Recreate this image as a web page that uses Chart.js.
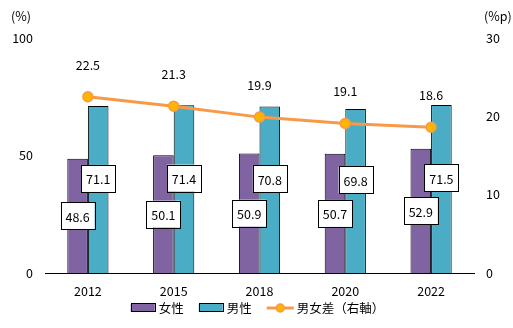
<!DOCTYPE html>
<html>
<head>
<meta charset="utf-8">
<script src="https://cdn.jsdelivr.net/npm/chart.js@4.4.1/dist/chart.umd.min.js"></script>
<style>
  html, body { margin: 0; padding: 0; background: #fff; }
  #wrap { width: 513px; height: 328px; }
</style>
</head>
<body>
<div id="wrap"><canvas id="chart" width="513" height="328"></canvas></div>
<script>
const years = ['2012', '2015', '2018', '2020', '2022'];
const female = [48.6, 50.1, 50.9, 50.7, 52.9];
const male = [71.1, 71.4, 70.8, 69.8, 71.5];
const gap = [22.5, 21.3, 19.9, 19.1, 18.6];

const FONT = '"Noto Sans CJK JP", "Noto Sans", sans-serif';
const purple = '#8064A2';
const teal = '#4BACC6';
const orange = '#F79A48';
const dotFill = '#FFB400';

// white boxed labels on bars, plain labels over the line
const labelPlugin = {
    id: 'labels',
    afterDatasetsDraw(chart) {
        const ctx = chart.ctx;
        ctx.save();
        ctx.font = '12.5px ' + FONT;
        ctx.textAlign = 'center';
        ctx.textBaseline = 'middle';
        chart.data.datasets.forEach((ds, i) => {
            const meta = chart.getDatasetMeta(i);
            meta.data.forEach((el, j) => {
                const txt = ds.data[j].toFixed(1);
                if (ds.type === 'line') {
                    ctx.fillStyle = '#000';
                    ctx.fillText(txt, el.x, el.y - 32);
                    return;
                }
                const mid = (el.y + el.base) / 2 + (i === 1 ? -11 : 0);
                const w = 34, h = 27;
                ctx.fillStyle = '#fff';
                ctx.fillRect(el.x - w / 2, mid - h / 2, w, h);
                ctx.strokeStyle = '#000';
                ctx.lineWidth = 1;
                ctx.strokeRect(Math.round(el.x - w / 2) + 0.5, Math.round(mid - h / 2) + 0.5, w, h);
                ctx.fillStyle = '#000';
                ctx.fillText(txt, el.x, mid + 1);
            });
        });
        ctx.restore();
    }
};

// axis unit captions and bottom legend
const extrasPlugin = {
    id: 'extras',
    afterDraw(chart) {
        const ctx = chart.ctx;
        const area = chart.chartArea;
        ctx.save();
        ctx.font = '12.5px ' + FONT;
        ctx.fillStyle = '#000';
        ctx.textBaseline = 'middle';
        ctx.textAlign = 'left';
        ctx.fillText('(%)', 11, area.top - 22);
        ctx.fillText('(%p)', chart.scales.y1.left + 10, area.top - 22);

        const items = chart.data.datasets.map(ds => ({ text: ds.label, type: ds.type || 'bar', color: ds.backgroundColor }));
        const sym = 25, gapTxt = 3, gapItem = 15;
        let total = 0;
        items.forEach((it, k) => {
            it.w = ctx.measureText(it.text).width;
            total += sym + gapTxt + it.w + (k ? gapItem : 0);
        });
        let x = (chart.width - total) / 2;
        const y = 308;
        items.forEach((it, k) => {
            if (k) x += gapItem;
            if (it.type === 'line') {
                ctx.strokeStyle = orange;
                ctx.lineWidth = 3;
                ctx.beginPath();
                ctx.moveTo(x, y);
                ctx.lineTo(x + sym + 2, y);
                ctx.stroke();
                ctx.beginPath();
                ctx.arc(x + sym / 2 + 1, y, 4, 0, Math.PI * 2);
                ctx.fillStyle = dotFill;
                ctx.fill();
                ctx.lineWidth = 1.5;
                ctx.stroke();
                x += 2;
            } else {
                ctx.fillStyle = it.color;
                ctx.fillRect(x, y - 4, sym - 1, 8);
                ctx.strokeStyle = '#000';
                ctx.lineWidth = 1;
                ctx.strokeRect(Math.round(x) + 0.5, y - 4.5, sym - 1, 8);
            }
            x += sym + gapTxt;
            ctx.fillStyle = '#000';
            ctx.fillText(it.text, x, y);
            x += it.w;
        });
        ctx.restore();
    }
};

new Chart(document.getElementById('chart'), {
    type: 'bar',
    data: {
        labels: years,
        datasets: [
            {
                label: '女性',
                data: female,
                backgroundColor: purple,
                borderColor: '#000',
                borderWidth: 1,
                categoryPercentage: 0.48,
                barPercentage: 1,
                yAxisID: 'y',
                order: 1
            },
            {
                label: '男性',
                data: male,
                backgroundColor: teal,
                borderColor: '#000',
                borderWidth: 1,
                categoryPercentage: 0.48,
                barPercentage: 1,
                yAxisID: 'y',
                order: 1
            },
            {
                type: 'line',
                label: '男女差（右軸）',
                data: gap,
                borderColor: orange,
                borderWidth: 3,
                backgroundColor: dotFill,
                pointBackgroundColor: dotFill,
                pointBorderColor: orange,
                pointBorderWidth: 1.5,
                pointRadius: 5,
                yAxisID: 'y1',
                order: 0
            }
        ]
    },
    options: {
        responsive: false,
        animation: false,
        layout: { padding: { top: 38, left: 0, right: 0, bottom: 0 } },
        plugins: {
            legend: { display: false },
            tooltip: { enabled: false }
        },
        scales: {
            x: {
                grid: { display: false, drawTicks: false },
                border: { display: true, color: '#000', width: 1 },
                ticks: { color: '#000', padding: 11, font: { family: FONT, size: 12.5 } },
                afterFit: s => { s.height = 55; }
            },
            y: {
                position: 'left',
                min: 0,
                max: 100,
                ticks: { stepSize: 50, color: '#000', padding: 12, font: { family: FONT, size: 12.5 } },
                grid: { display: false, drawTicks: false },
                border: { display: false },
                afterFit: s => { s.width = 45; }
            },
            y1: {
                position: 'right',
                min: 0,
                max: 30,
                ticks: { stepSize: 10, color: '#000', padding: 12, font: { family: FONT, size: 12.5 } },
                grid: { display: false, drawTicks: false },
                border: { display: false },
                afterFit: s => { s.width = 39; }
            }
        }
    },
    plugins: [labelPlugin, extrasPlugin]
});
</script>
</body>
</html>
